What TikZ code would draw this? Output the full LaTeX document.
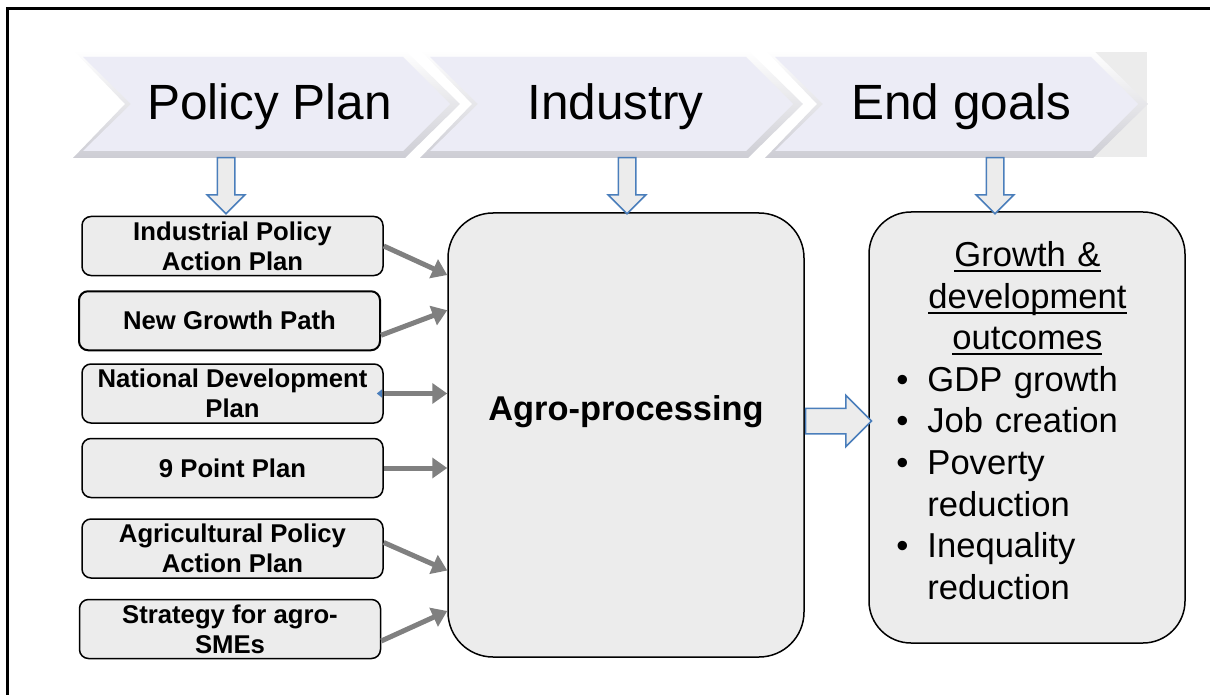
\documentclass[tikz,border=0pt]{standalone}
\usepackage{fontspec}
\setmainfont{Liberation Sans}
\usepackage{tikz}
\usetikzlibrary{shapes.arrows, arrows.meta, positioning}
\definecolor{boxgrey}{RGB}{236,236,236}
\definecolor{bandface}{RGB}{236,236,246}
\definecolor{bandedge}{RGB}{205,205,212}
\definecolor{arrowblue}{RGB}{74,126,187}
\definecolor{feedgrey}{RGB}{128,128,128}
\tikzstyle{feed} = [line width=5pt, draw=feedgrey, -{Triangle[length=15pt, width=20pt]}]
% underline at a fixed depth below the baseline
\newcommand{\ulbar}[1]{\leavevmode\setbox0\hbox{#1}\rlap{\vrule width\wd0 height-3.5pt depth 5.5pt}\box0}

\begin{document}
\begin{tikzpicture}[x=1pt, y=-1pt,
      plan/.style={rectangle, draw=black, line width=1.5pt, fill=boxgrey, rounded corners=9pt, minimum width=301pt, minimum height=59pt, inner sep=0pt, align=center, font=\fontsize{25.7}{30}\selectfont\bfseries},
      hub/.style={rectangle, draw=black, line width=1.5pt, fill=boxgrey, rounded corners=45pt, minimum width=356pt, minimum height=444pt},
      goalbox/.style={rectangle, draw=black, line width=1.5pt, fill=boxgrey, rounded corners=42pt, minimum width=316pt, minimum height=431pt},
      goaltext/.style={text width=262pt, align=left, inner sep=0pt, font=\fontsize{34.6}{41.6}\selectfont},
      title/.style={anchor=base, font=\fontsize{49.5}{59}\selectfont},
      downarrow/.style={single arrow, draw=arrowblue, fill=boxgrey, line width=1.5pt, inner xsep=0pt, inner ysep=8pt, minimum height=56pt, single arrow head extend=10pt, rotate=-90, anchor=tail},
      rightarrow/.style={single arrow, draw=arrowblue, fill=boxgrey, line width=1.5pt, inner xsep=0pt, inner ysep=12pt, minimum height=66pt, single arrow head extend=13pt, anchor=tail},
    ]
    \useasboundingbox (0,0) rectangle (1210,695);

    % Frame
    \draw[line width=2.5pt] (7.5,695) -- (7.5,8.5) -- (1210,8.5);

    % Banner
    \fill[boxgrey] (1093,52) rectangle (1147,157);
    \foreach \a/\b in {73/405, 420/748, 765/1093} {
      \shade[top color=white, bottom color=bandedge] (\a,50) -- (\b,50) -- (\b+55,104) -- (\b,158) -- (\a,158) -- (\a+52,104) -- cycle;
      \fill[bandface] (\a+10,57) -- (\b-2,57) -- (\b+45,104) -- (\b-2,151) -- (\a+10,151) -- (\a+58,104) -- cycle;
    }
    \node[title] (tplan) at (269.5,120) {Policy Plan};
    \node[title] (tind) at (615.5,120) {Industry};
    \node[title] (tgoal) at (961.5,120) {End goals};

    % Nodes
    \node[plan] (p1) at (232.5,246) {Industrial Policy\\Action Plan};
    \node[plan, line width=2pt, below=14pt of p1, xshift=-3pt] (p2) {New Growth Path};
    \node[plan, below=12pt of p2, xshift=3pt] (p3) {National Development\\Plan};
    \node[plan, below=14pt of p3] (p4) {9 Point Plan};
    \node[plan, below=20pt of p4] (p5) {Agricultural Policy\\Action Plan};
    \node[plan, below=20pt of p5, xshift=-2.5pt] (p6) {Strategy for agro-\\SMEs};

    \node[hub] (agro) at (626,435) {};
    \node[font=\fontsize{34.4}{41}\selectfont\bfseries] (agrotxt) at ([yshift=23pt]agro.center) {Agro-processing};

    \node[goalbox] (goals) at (1027,427.5) {};
    \node[goaltext, anchor=north west] (goallist) at ([xshift=28pt, yshift=-30pt]goals.north west) {%
      \makebox[262pt]{\ulbar{Growth \&}}\\
      \makebox[262pt]{\ulbar{development}}\\
      \makebox[262pt]{\ulbar{outcomes}}\\
      \makebox[31pt][l]{\textbullet}GDP growth\\
      \makebox[31pt][l]{\textbullet}Job creation\\
      \makebox[31pt][l]{\textbullet}Poverty\\
      \hspace*{31pt}reduction\\
      \makebox[31pt][l]{\textbullet}Inequality\\
      \hspace*{31pt}reduction};

    % Block arrows
    \node[downarrow] (d1) at (226,157) {};
    \node[downarrow] (d2) at (627,157) {};
    \node[downarrow] (d3) at (995,157) {};
    \node[rightarrow] (r1) at ([yshift=14pt]agro.east) {};

    % Edges
    \draw[feed] (p1.east) -- ([yshift=-29pt]p1.east -| agro.west);
    \draw[feed] ([yshift=-14.5pt]p2.east) -- ([yshift=10.5pt]p2.east -| agro.west);
    \draw[feed] (p3.east) -- (p3.east -| agro.west);
    \fill[arrowblue] ([xshift=-7pt]p3.east) -- ++(5,-4) -- ++(0,8) -- cycle;
    \draw[feed] (p4.east) -- (p4.east -| agro.west);
    \draw[feed] ([yshift=6pt]p5.east) -- ([yshift=-22pt]p5.east -| agro.west);
    \draw[feed] ([yshift=-12pt]p6.east) -- ([yshift=18pt]p6.east -| agro.west);

  \end{tikzpicture}
\end{document}
